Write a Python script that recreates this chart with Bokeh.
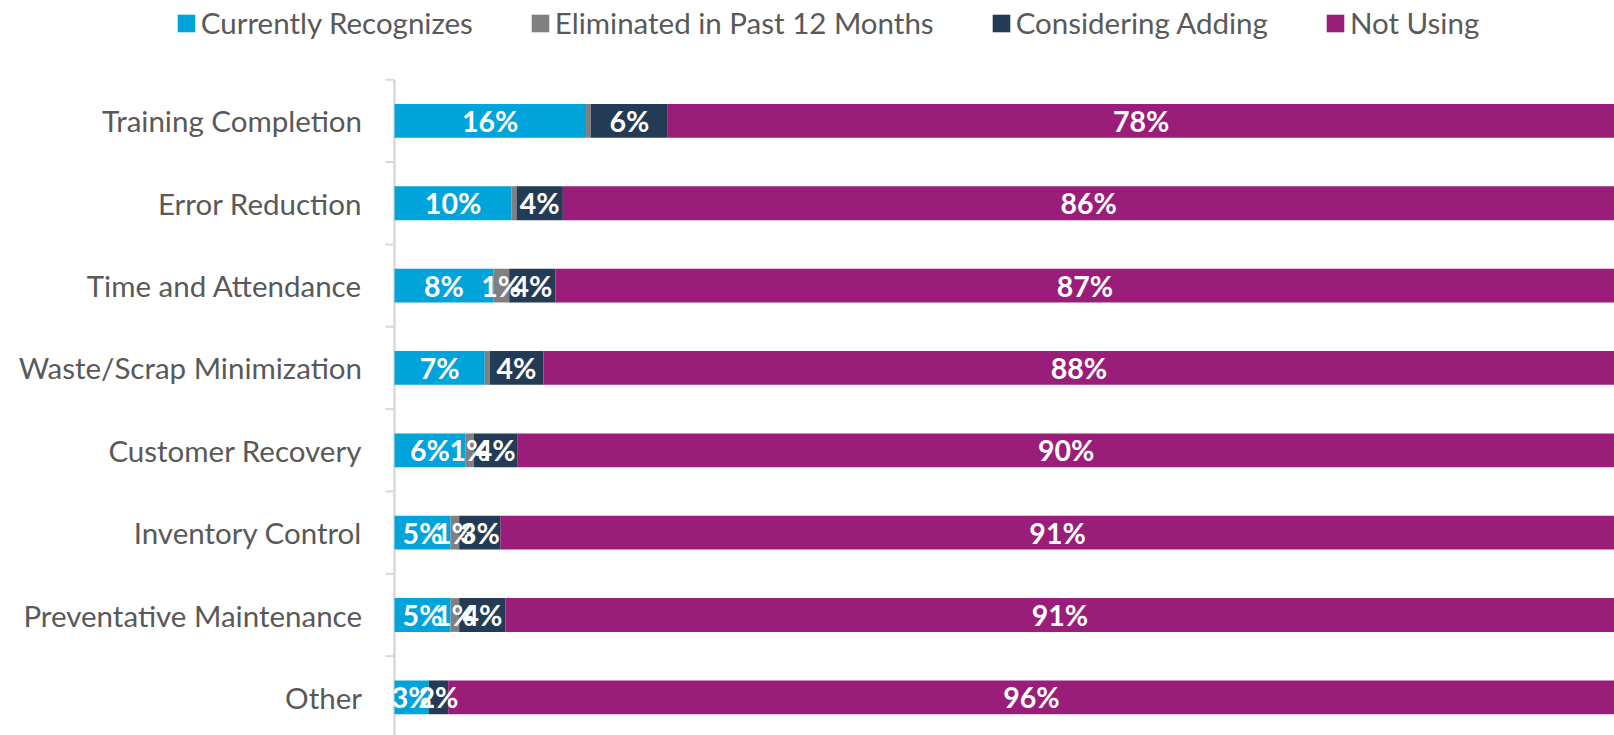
from bokeh.plotting import figure
from bokeh.models import ColumnDataSource, Range1d, Legend
from bokeh.embed import file_html
from bokeh.resources import INLINE
from bokeh.core.properties import value

categories = ["Training Completion", "Error Reduction", "Time and Attendance",
              "Waste/Scrap Minimization", "Customer Recovery", "Inventory Control",
              "Preventative Maintenance", "Other"]
series_names = ["Currently Recognizes", "Eliminated in Past 12 Months",
                "Considering Adding", "Not Using"]
currently = [15.7, 9.6, 8.1, 7.4, 5.8, 4.6, 4.6, 2.8]
eliminated = [0.4, 0.4, 1.3, 0.4, 0.7, 0.7, 0.7, 0.0]
considering = [6.3, 3.8, 3.8, 4.4, 3.6, 3.4, 3.8, 1.6]
not_using = [77.6, 86.2, 86.8, 87.8, 89.9, 91.3, 90.9, 95.6]
colors = ["#00A3DA", "#808080", "#243B55", "#9A1D7A"]

FONT = "Lato"
TEXT_GREY = "#595959"
AXIS_GREY = "#D9D9D9"

n = len(categories)
ypos = [n - 1 - i for i in range(n)]
keys = ["s0", "s1", "s2", "s3"]
cols = [currently, eliminated, considering, not_using]
data = {"y": ypos}
for k, c in zip(keys, cols):
    data[k] = c
source = ColumnDataSource(data)

# ---- layout (pixels) ----
W, H = 1614, 735
AXIS_PX = 394          # where 0% sits
PX_PER_UNIT = (W - AXIS_PX) / 100.0
ROW_PX = 82.35
FIRST_ROW_PX = 120.4
TICK_PX = 9
LABEL_GAP_PX = 32.5

x_start = -AXIS_PX / PX_PER_UNIT
y_top = (n - 1) + FIRST_ROW_PX / ROW_PX
y_bottom = y_top - H / ROW_PX

p = figure(width=W, height=H, output_backend="svg", toolbar_location=None,
           x_range=Range1d(x_start, 100), y_range=Range1d(y_bottom, y_top),
           x_axis_location=None, y_axis_location=None,
           min_border_left=0, min_border_right=0,
           min_border_top=0, min_border_bottom=0, outline_line_color=None,
           background_fill_color="white", border_fill_color="white")
p.grid.visible = False

# category axis: line, ticks between categories, labels
bounds = [i - 0.5 for i in range(n + 1)]
p.segment(x0=[0], y0=[bounds[0]], x1=[0], y1=[bounds[-1]],
          line_color=AXIS_GREY, line_width=2.5)
p.segment(x0=[-TICK_PX / PX_PER_UNIT] * len(bounds), y0=bounds,
          x1=[0] * len(bounds), y1=bounds, line_color=AXIS_GREY, line_width=2)
p.text(x=[-LABEL_GAP_PX / PX_PER_UNIT] * n, y=ypos, text=categories,
       text_align="right", text_baseline="middle", text_color=TEXT_GREY,
       text_font=value(FONT), text_font_size="29.5px")

rs = p.hbar_stack(keys, y="y", height=0.41, color=colors, source=source,
                  line_color=None)

# data labels
lx, ly, lt = [], [], []
for i in range(n):
    start = 0.0
    for c in cols:
        v = c[i]
        r = round(v)
        if r >= 1:
            lx.append(start + v / 2)
            ly.append(ypos[i])
            lt.append(f"{r}%")
        start += v
lab_src = ColumnDataSource(dict(x=lx, y=ly, t=lt))
# keep labels inside the plotting area (left of 0 is clipped like the axis)
p.text(x="x", y="y", text="t", source=lab_src, text_align="center",
       text_baseline="middle", text_color="white", text_font=value(FONT),
       text_font_style="bold", text_font_size="28.5px")

lg = Legend(items=[(name, [r]) for name, r in zip(series_names, rs)])
lg.orientation = "horizontal"
lg.location = (174.8, 695)
lg.glyph_width = 22
lg.glyph_height = 22
lg.label_standoff = 4
lg.spacing = 56
lg.padding = 0
lg.margin = 0
lg.border_line_color = None
lg.background_fill_alpha = 0
lg.label_text_font = FONT
lg.label_text_font_size = "29.5px"
lg.label_text_color = TEXT_GREY
p.add_layout(lg)

open("out.html", "w").write(file_html(p, INLINE))
